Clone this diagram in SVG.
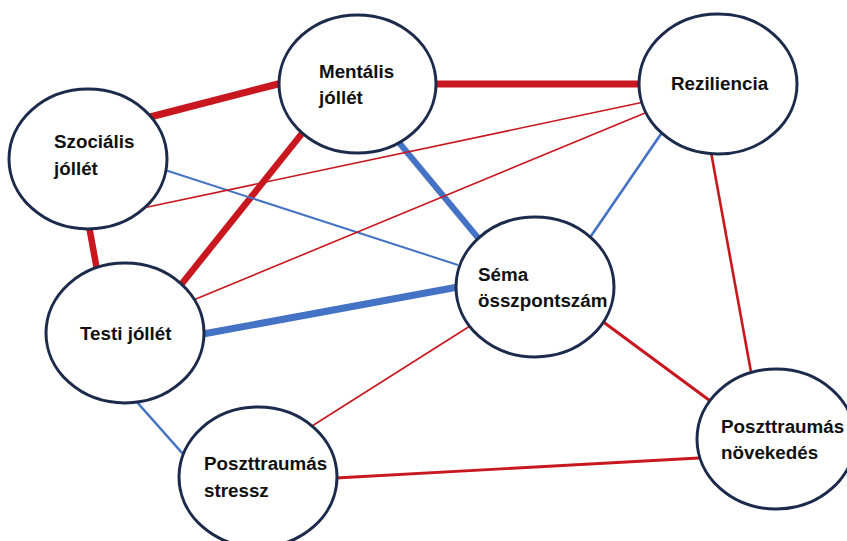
<svg xmlns="http://www.w3.org/2000/svg" width="847" height="541" viewBox="0 0 847 541">
<style>
.node ellipse{fill:#fff;stroke:#1c2b4b;stroke-width:3}
.node text{font-family:"Liberation Sans",Arial,sans-serif;font-weight:bold;font-size:18.8px;fill:#111}
.r{stroke:#c8171e;fill:none}
.b{stroke:#4472c4;fill:none}
</style>
<rect width="847" height="541" fill="#fff"/>
<g id="connectors">
<line class="r" x1="150" y1="117" x2="282" y2="83" stroke-width="7"/>
<line class="r" x1="434" y1="84" x2="641" y2="84" stroke-width="7"/>
<line class="r" x1="89" y1="226" x2="97" y2="270" stroke-width="6.5"/>
<line class="r" x1="304" y1="131" x2="180" y2="286" stroke-width="6.5"/>
<line class="b" x1="396" y1="139" x2="479" y2="239" stroke-width="6"/>
<line class="b" x1="203" y1="334" x2="458" y2="287" stroke-width="7"/>
<line class="b" x1="165" y1="170" x2="458" y2="265" stroke-width="2"/>
<line class="r" x1="143" y1="208" x2="644" y2="102" stroke-width="1.6"/>
<line class="r" x1="191" y1="301" x2="645" y2="113" stroke-width="1.6"/>
<line class="b" x1="589" y1="239" x2="663" y2="131" stroke-width="2.6"/>
<line class="r" x1="711" y1="152" x2="751" y2="372" stroke-width="2.6"/>
<line class="r" x1="602" y1="321" x2="713" y2="403" stroke-width="3"/>
<line class="r" x1="470" y1="326" x2="312" y2="426" stroke-width="1.6"/>
<line class="b" x1="136" y1="401" x2="183" y2="454" stroke-width="2.6"/>
<line class="r" x1="336" y1="478" x2="699" y2="458" stroke-width="2.8"/>
</g>
<g id="mentalis" class="node">
<ellipse cx="357.5" cy="84" rx="78.5" ry="69"/>
<text x="319" y="78">Mentális</text>
<text x="319" y="104">jóllét</text>
</g>
<g id="reziliencia" class="node">
<ellipse cx="718" cy="84" rx="79" ry="70"/>
<text x="671" y="90">Reziliencia</text>
</g>
<g id="szocialis" class="node">
<ellipse cx="88" cy="159" rx="79" ry="70"/>
<text x="54" y="148">Szociális</text>
<text x="54" y="175">jóllét</text>
</g>
<g id="testi" class="node">
<ellipse cx="125" cy="333" rx="79" ry="70"/>
<text x="80" y="340">Testi jóllét</text>
</g>
<g id="sema" class="node">
<ellipse cx="535" cy="287" rx="79" ry="70"/>
<text x="478" y="281">Séma</text>
<text x="478" y="307">összpontszám</text>
</g>
<g id="stressz" class="node">
<ellipse cx="258" cy="477" rx="79" ry="70"/>
<text x="204" y="470">Poszttraumás</text>
<text x="204" y="497">stressz</text>
</g>
<g id="novekedes" class="node">
<ellipse cx="776" cy="439" rx="79" ry="70"/>
<text x="721" y="433">Poszttraumás</text>
<text x="721" y="459">növekedés</text>
</g>
</svg>
